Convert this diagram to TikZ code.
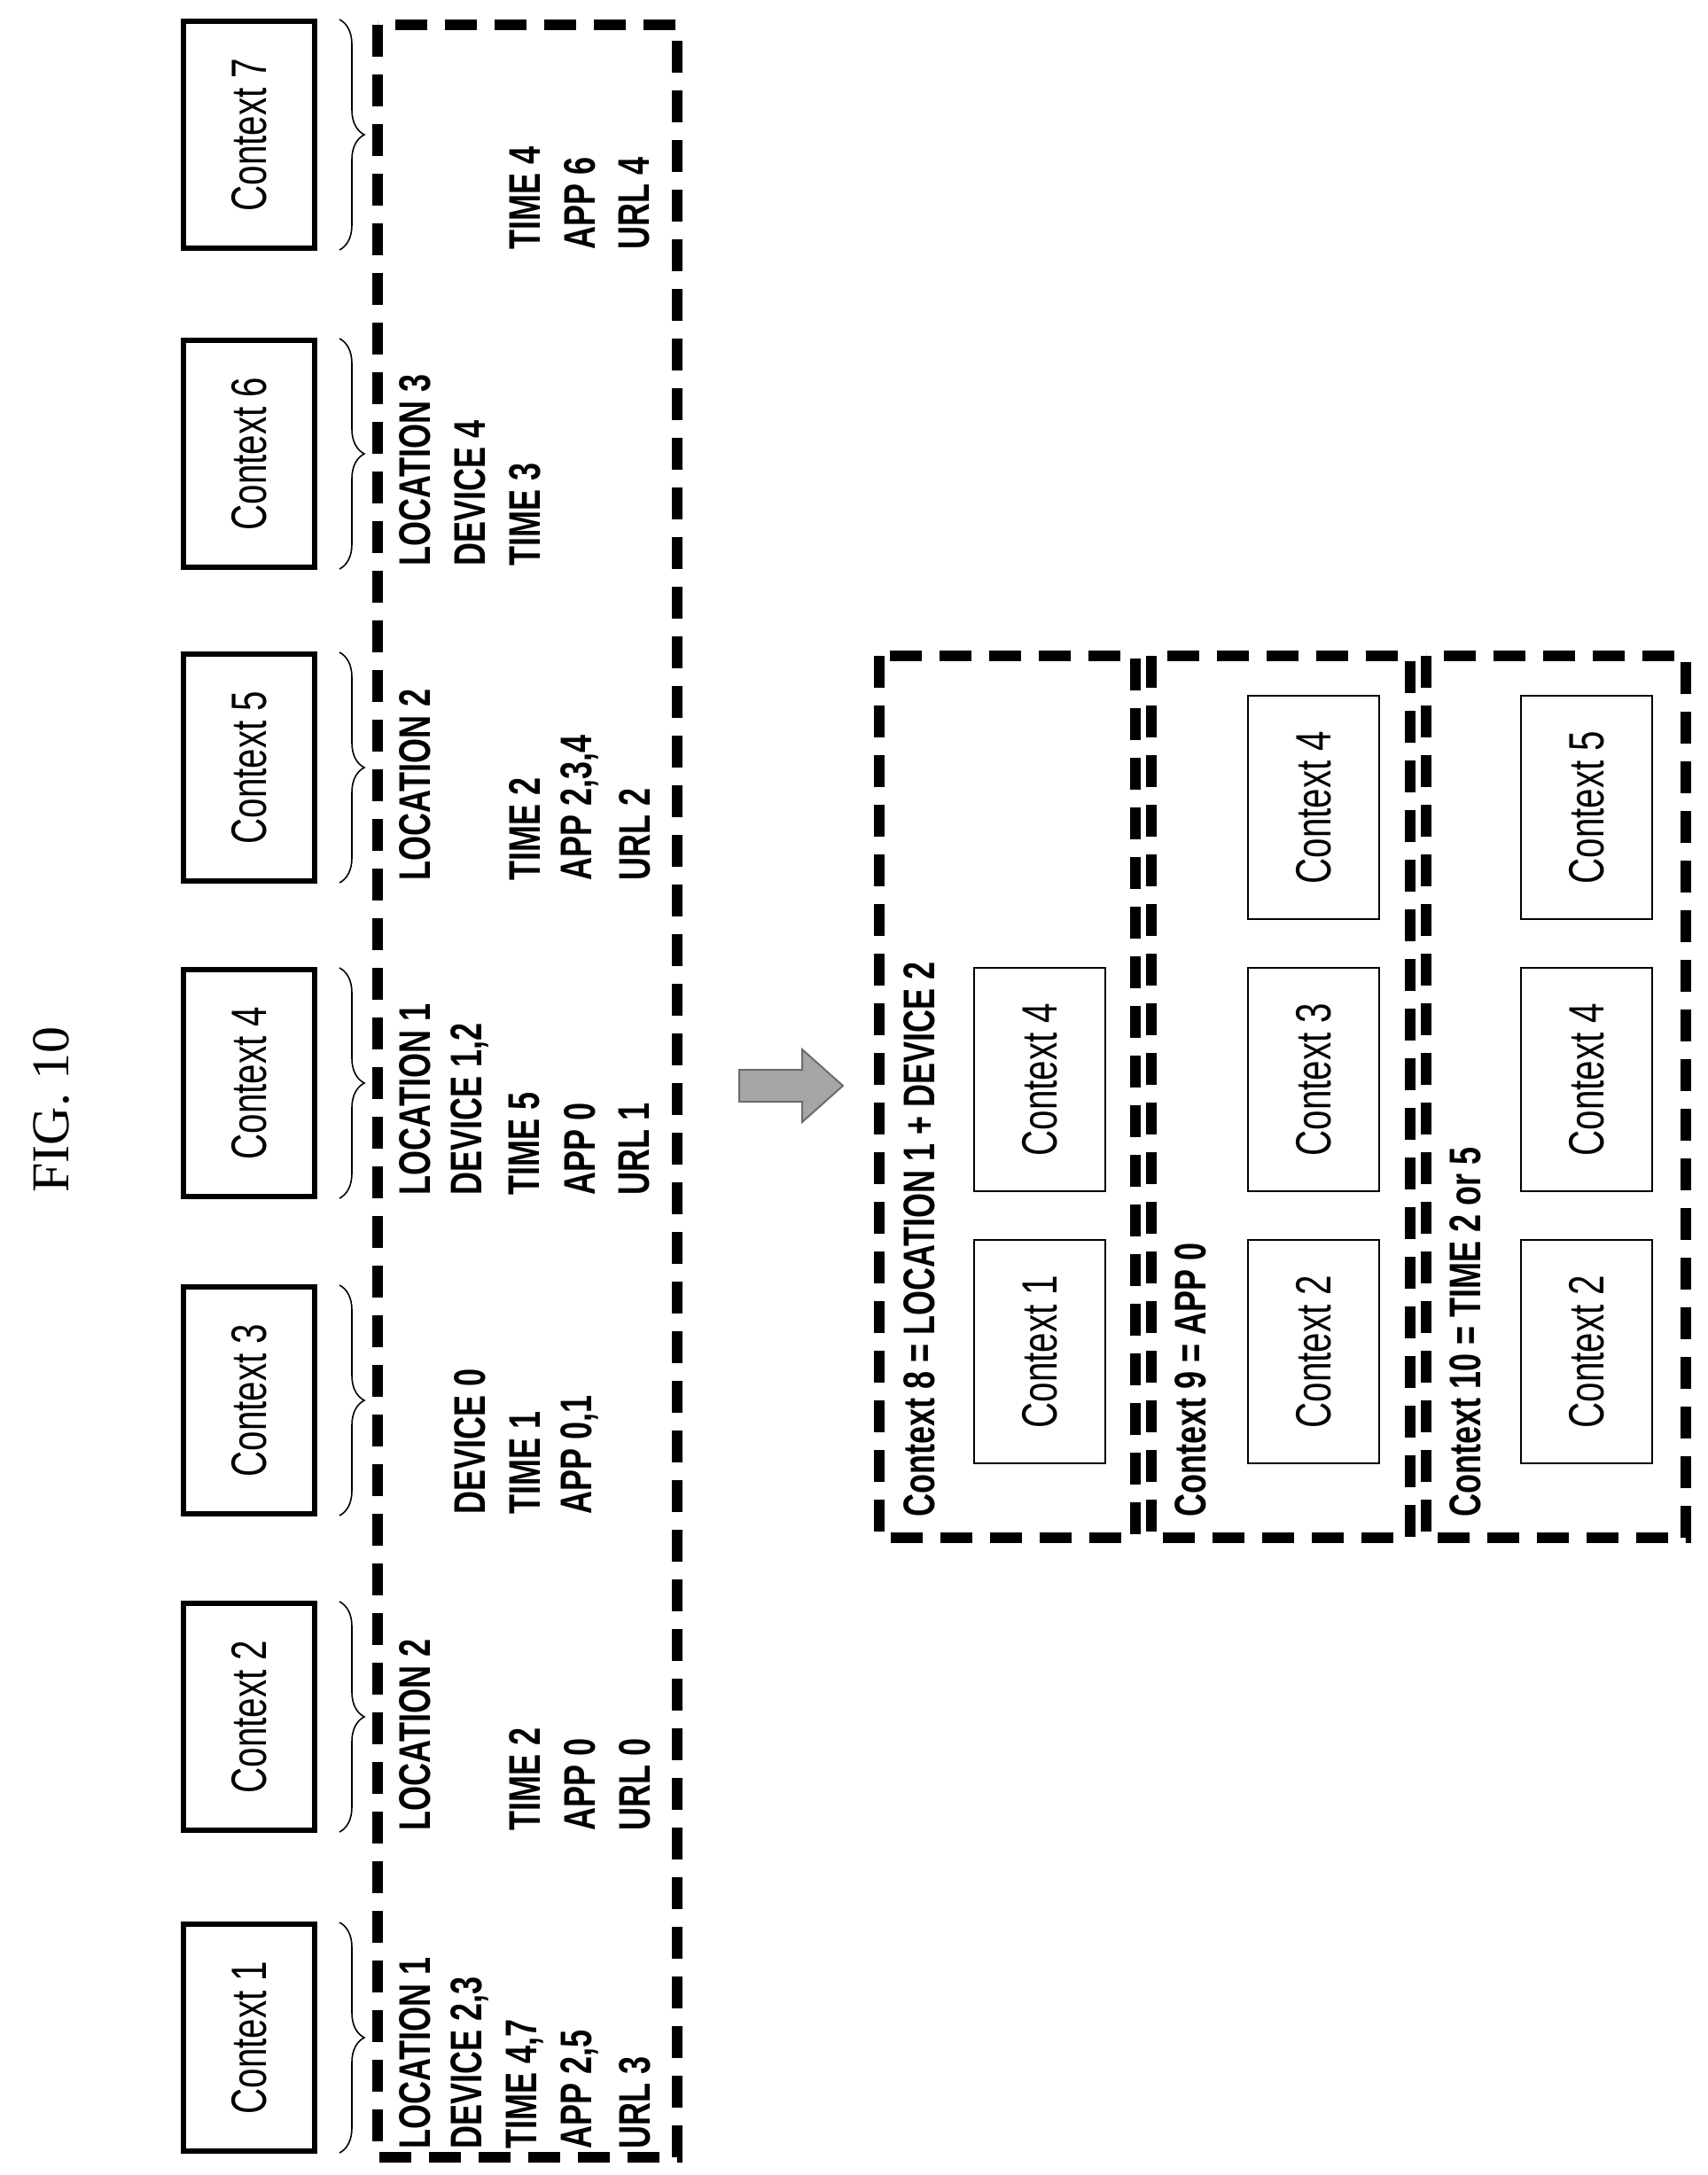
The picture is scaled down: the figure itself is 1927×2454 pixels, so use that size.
\documentclass[tikz,border=0pt]{standalone}
\usepackage{fontspec}
\setmainfont{Liberation Serif}
\newfontfamily\cond[FakeStretch=0.72]{Liberation Sans}
\usetikzlibrary{decorations.pathreplacing}
\begin{document}
\begin{tikzpicture}[x=0.25pt,y=-0.25pt,
  ctx/.style={draw,line width=1.3pt,rotate=90,minimum width=64pt,minimum height=37pt,inner sep=0pt,font=\cond\fontsize{14}{16}\selectfont},
  sctx/.style={draw,line width=0.6pt,rotate=90,minimum width=63pt,minimum height=37pt,inner sep=0pt,font=\cond\fontsize{14}{16}\selectfont},
  dat/.style={rotate=90,anchor=west,inner sep=0pt,font=\cond\bfseries\fontsize{12.5}{14}\selectfont},
  lab/.style={rotate=90,anchor=west,inner sep=0pt,font=\cond\bfseries\fontsize{12.5}{14}\selectfont},
  dbox/.style={draw,line width=2.8pt,dash pattern=on 9pt off 5pt},
  br/.style={decorate,decoration={brace,amplitude=7pt},line width=0.4pt}]
\useasboundingbox (0,0) rectangle (1927,2454);
\node[rotate=90,font=\fontsize{15}{17}\selectfont] (fig) at (58,1252) {FIG. 10};
% top contexts
\foreach \i/\c in {1/2299,2/1937,3/1580,4/1222,5/866,6/512,7/152}{
  \node[ctx] (c\i) at (281,\c) {Context \i};
  \draw[br] (383,\c-130) -- (383,\c+130);
}
\draw[dbox] (426,28) rectangle (764,2434);
\node[dat] (a1) at (468,2425) {LOCATION 1};
\node[dat] (a2) at (530,2425) {DEVICE 2,3};
\node[dat] (a3) at (592,2425) {TIME 4,7};
\node[dat] (a4) at (654,2425) {APP 2,5};
\node[dat] (a5) at (716,2425) {URL 3};
\node[dat] (b1) at (468,2066) {LOCATION 2};
\node[dat] (b3) at (592,2066) {TIME 2};
\node[dat] (b4) at (654,2066) {APP 0};
\node[dat] (b5) at (716,2066) {URL 0};
\node[dat] (d2) at (530,1709) {DEVICE 0};
\node[dat] (d3) at (592,1709) {TIME 1};
\node[dat] (d4) at (654,1709) {APP 0,1};
\node[dat] (e1) at (468,1349) {LOCATION 1};
\node[dat] (e2) at (530,1349) {DEVICE 1,2};
\node[dat] (e3) at (592,1349) {TIME 5};
\node[dat] (e4) at (654,1349) {APP 0};
\node[dat] (e5) at (716,1349) {URL 1};
\node[dat] (f1) at (468,994) {LOCATION 2};
\node[dat] (f3) at (592,994) {TIME 2};
\node[dat] (f4) at (654,994) {APP 2,3,4};
\node[dat] (f5) at (716,994) {URL 2};
\node[dat] (g1) at (468,639) {LOCATION 3};
\node[dat] (g2) at (530,639) {DEVICE 4};
\node[dat] (g3) at (592,639) {TIME 3};
\node[dat] (h3) at (592,282) {TIME 4};
\node[dat] (h4) at (654,282) {APP 6};
\node[dat] (h5) at (716,282) {URL 4};
% arrow
\draw[fill=gray!70,draw=gray!85!black,line width=0.5pt] (834,1207) -- (905,1207) -- (905,1184) -- (951,1225) -- (905,1266) -- (905,1243) -- (834,1243) -- cycle;
% right boxes
\draw[dbox] (992,740) rectangle (1281,1735);
\draw[dbox] (1299,740) rectangle (1591,1735);
\draw[dbox] (1609,740) rectangle (1902,1735);
\node[lab] (l8) at (1037,1712) {Context 8 = LOCATION 1 + DEVICE 2};
\node[lab] (l9) at (1343,1712) {Context 9 = APP 0};
\node[lab] (l10) at (1653,1712) {Context 10 = TIME 2 or 5};
\node[sctx] (r81) at (1173,1525) {Context 1};
\node[sctx] (r84) at (1173,1218) {Context 4};
\node[sctx] (r92) at (1482,1525) {Context 2};
\node[sctx] (r93) at (1482,1218) {Context 3};
\node[sctx] (r94) at (1482,911) {Context 4};
\node[sctx] (r102) at (1790,1525) {Context 2};
\node[sctx] (r104) at (1790,1218) {Context 4};
\node[sctx] (r105) at (1790,911) {Context 5};
\end{tikzpicture}
\end{document}
